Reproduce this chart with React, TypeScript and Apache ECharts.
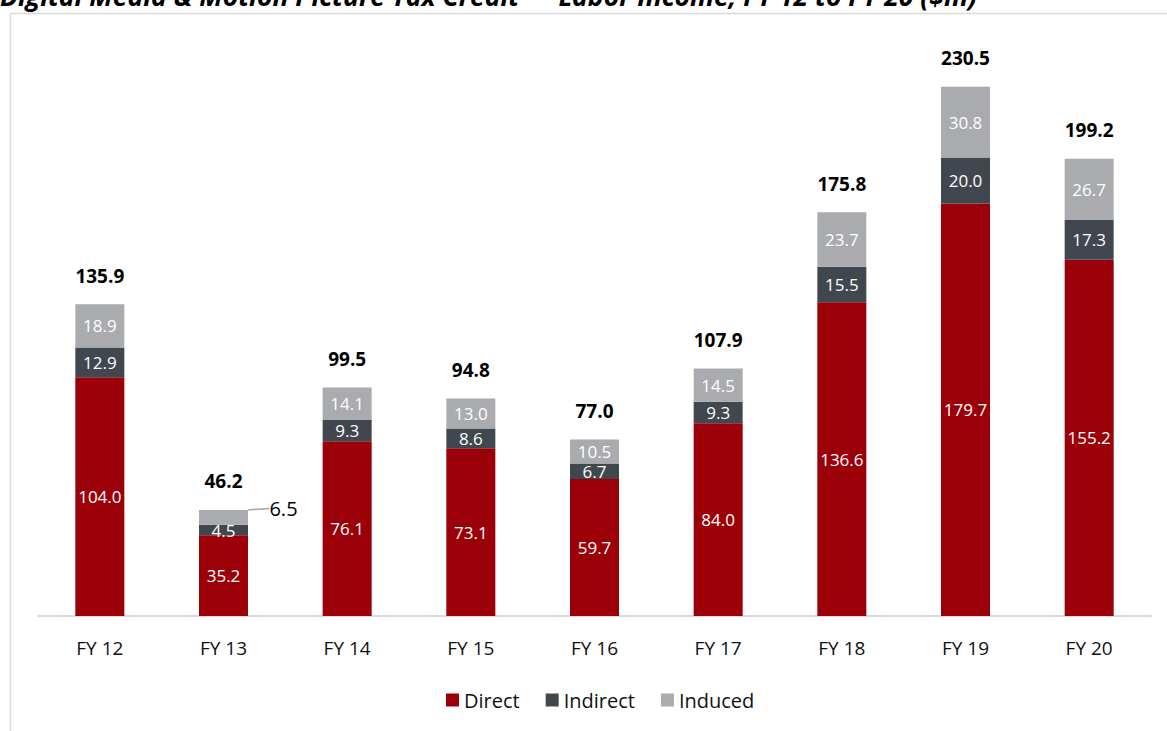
import React, { useEffect, useRef } from "react";
import * as echarts from "echarts";

const categories = ["FY 12", "FY 13", "FY 14", "FY 15", "FY 16", "FY 17", "FY 18", "FY 19", "FY 20"];
const direct = [104.0, 35.2, 76.1, 73.1, 59.7, 84.0, 136.6, 179.7, 155.2];
const indirect = [12.9, 4.5, 9.3, 8.6, 6.7, 9.3, 15.5, 20.0, 17.3];
const induced = [18.9, 6.5, 14.1, 13.0, 10.5, 14.5, 23.7, 30.8, 26.7];
const totals = [135.9, 46.2, 99.5, 94.8, 77.0, 107.9, 175.8, 230.5, 199.2];
const titleText = "Digital Media & Motion Picture Tax Credit \u2014 Labor Income, FY 12 to FY 20 ($m)";

const FONT = '"Open Sans", "Noto Sans", sans-serif';

export default function App() {
  const ref = useRef<HTMLDivElement>(null);
  useEffect(() => {
    if (!ref.current) return;
    const chart = echarts.init(ref.current, null, { renderer: "svg" });
    const inLabel = {
      show: true,
      position: "inside",
      color: "#ffffff",
      fontSize: 17,
      lineHeight: 14,
      fontFamily: FONT,
      formatter: (p: any) => Number(p.value).toFixed(1),
    };
    chart.setOption({
      animation: false,
      backgroundColor: "#ffffff",
      graphic: [
        {
          type: "rect",
          shape: { x: 10.5, y: 13.5, width: 1300, height: 900 },
          style: { fill: "none", stroke: "#d9d9d9", lineWidth: 1.5 },
          silent: true,
          z: -10,
        },
        {
          type: "text",
          x: 0,
          y: 9,
          style: {
            text: titleText,
            font: 'italic bold 26.5px ' + FONT,
            fill: "#000000",
            textVerticalAlign: "bottom",
            verticalAlign: "bottom",
          },
        },
      ],
      legend: {
        data: ["Direct", "Indirect", "Induced"],
        bottom: 16,
        left: 441,
        itemWidth: 13,
        itemHeight: 13,
        itemGap: 26,
        icon: "rect",
        textStyle: { fontSize: 20, color: "#111", fontFamily: FONT },
      },
      grid: { left: 38, right: 16, top: 42, bottom: 115 },
      xAxis: {
        type: "category",
        data: categories,
        axisLine: { lineStyle: { color: "#d9d9d9", width: 2 } },
        axisTick: { show: false },
        axisLabel: { fontSize: 19, color: "#111", margin: 22, fontFamily: FONT },
      },
      yAxis: {
        type: "value",
        min: 0,
        max: 250,
        show: false,
        splitLine: { show: false },
      },
      series: [
        {
          name: "Direct",
          type: "bar",
          stack: "t",
          barWidth: 49,
          data: direct,
          itemStyle: { color: "#9b0009" },
          label: inLabel,
        },
        {
          name: "Indirect",
          type: "bar",
          stack: "t",
          barWidth: 49,
          data: indirect,
          itemStyle: { color: "#40474f" },
          label: inLabel,
        },
        {
          name: "Induced",
          type: "bar",
          stack: "t",
          barWidth: 49,
          data: induced.map((v, i) =>
            i === 1
              ? {
                  value: v,
                  label: { color: "#000000", fontSize: 20, lineHeight: 20 },
                  labelLine: { show: true, lineStyle: { color: "#a6a6a6", width: 1.5 } },
                }
              : v
          ),
          itemStyle: { color: "#aaabae" },
          label: inLabel,
          labelLine: { show: false },
          labelLayout: (p: any) => (p.dataIndex === 1 ? { dx: 60, dy: -9 } : {}),
        },
        {
          name: "Total",
          type: "bar",
          stack: "t",
          barWidth: 49,
          data: totals.map(() => 0),
          itemStyle: { color: "transparent" },
          label: {
            show: true,
            position: "top",
            distance: 19,
            fontSize: 19,
            fontWeight: "bold",
            color: "#000000",
            fontFamily: FONT,
            formatter: (p: any) => totals[p.dataIndex].toFixed(1),
          },
        },
      ],
    });
    return () => chart.dispose();
  }, []);
  return (
    <div
      ref={ref}
      style={{ position: "fixed", left: 0, top: 0, width: 1167, height: 731 }}
    />
  );
}
